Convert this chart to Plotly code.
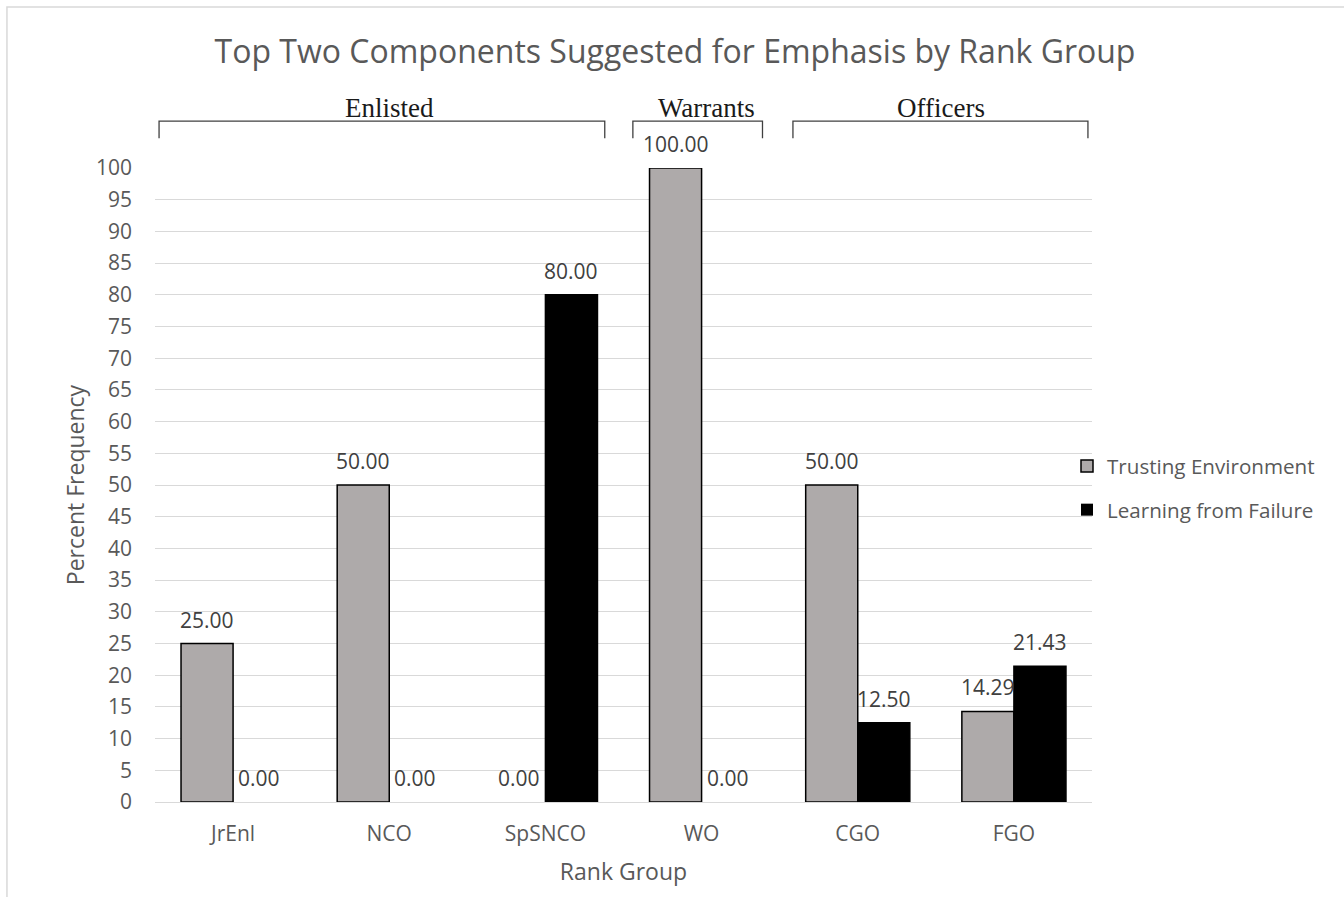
import plotly.graph_objects as go

# Data
rank_groups = ["JrEnl", "NCO", "SpSNCO", "WO", "CGO", "FGO"]
trusting_env = [25.00, 50.00, 0.00, 100.00, 50.00, 14.29]
learning_fail = [0.00, 0.00, 80.00, 0.00, 12.50, 21.43]
y_ticks = list(range(0, 101, 5))

# Group brackets above the plot: (label, x start, x end, label x) in category units
group_names = ["Enlisted", "Warrants", "Officers"]
group_x0 = [-0.474, 2.56, 3.585]
group_x1 = [2.38, 3.39, 5.474]
group_xc = [1.0, 3.03, 4.53]

FONT = "Open Sans"
TXT = "#595959"
GRID = "#d9d9d9"
GRAY = "#aeaaaa"

xpos = list(range(len(rank_groups)))


def outline(values):
    # zero-height bars get no outline so they stay invisible
    return [1.5 if v > 0 else 0 for v in values]


fig = go.Figure()
fig.add_trace(go.Bar(
    x=xpos, y=trusting_env, name="Trusting Environment",
    marker=dict(color=GRAY, line=dict(color="#000000", width=outline(trusting_env))),
    legendgroup="a",
))
fig.add_trace(go.Bar(
    x=xpos, y=learning_fail, name="Learning from Failure",
    marker=dict(color="#000000", line=dict(color="#000000", width=outline(learning_fail))),
    legendgroup="b",
))

# Value labels above each bar
annotations = []
for series, shift in ((trusting_env, -1 / 6), (learning_fail, 1 / 6)):
    for i, v in enumerate(series):
        annotations.append(dict(
            x=i + shift, y=v, xref="x", yref="y", text=f"{v:.2f}",
            showarrow=False, yanchor="bottom", yshift=8,
            font=dict(family=FONT, size=21, color="#404040"),
        ))

# Group labels
for name, xc in zip(group_names, group_xc):
    annotations.append(dict(
        x=xc, y=1.094, xref="x", yref="paper", text=name, showarrow=False,
        yanchor="middle",
        font=dict(family="Liberation Serif", size=27, color="#1a1a1a"),
    ))

shapes = []
# Brackets
for x0, x1 in zip(group_x0, group_x1):
    shapes.append(dict(
        type="path", xref="x", yref="paper",
        path=f"M {x0},1.047 L {x0},1.074 L {x1},1.074 L {x1},1.047",
        line=dict(color="#404040", width=1.3),
    ))
# Chart area border
shapes.append(dict(
    type="rect", xref="paper", yref="paper",
    x0=-0.158, x1=1.3, y0=-0.2, y1=1.254,
    line=dict(color=GRID, width=1.5), fillcolor="rgba(0,0,0,0)", layer="below",
))

fig.update_layout(
    width=1344, height=897,
    margin=dict(l=155, r=252, t=168, b=95, autoexpand=False),
    paper_bgcolor="white", plot_bgcolor="white",
    barmode="group", bargap=1 / 3, bargroupgap=0,
    title=dict(
        text="Top Two Components Suggested for Emphasis by Rank Group",
        x=675 / 1344, xanchor="center", xref="container",
        y=1 - 52 / 897, yanchor="middle", yref="container",
        font=dict(family=FONT, size=32, color=TXT),
    ),
    font=dict(family=FONT, size=21, color=TXT),
    showlegend=True,
    legend=dict(
        x=1067 / 1344, xref="container", xanchor="left",
        y=1 - 446 / 897, yref="container", yanchor="top",
        font=dict(family=FONT, size=20.6, color=TXT),
        tracegroupgap=14, itemwidth=30, traceorder="grouped",
        bgcolor="rgba(0,0,0,0)",
    ),
    xaxis=dict(
        range=[-0.5, 5.5], tickmode="array", tickvals=xpos, ticktext=rank_groups,
        showgrid=False, zeroline=False, showline=True, linecolor=GRID, linewidth=1.3,
        ticks="", ticklabelstandoff=13,
        tickfont=dict(family=FONT, size=21, color=TXT),
        title=dict(text="Rank Group", standoff=17,
                   font=dict(family=FONT, size=23, color=TXT)),
        automargin=False,
    ),
    yaxis=dict(
        range=[0, 100], tickmode="array", tickvals=y_ticks,
        showgrid=True, gridcolor=GRID, gridwidth=1.3,
        zeroline=True, zerolinecolor=GRID, zerolinewidth=1.3,
        ticks="", ticklabelstandoff=22,
        tickfont=dict(family=FONT, size=21, color=TXT),
        title=dict(text="Percent Frequency", standoff=4,
                   font=dict(family=FONT, size=23, color=TXT)),
        automargin=False,
    ),
    annotations=annotations,
    shapes=shapes,
)

fig.write_html("out.html")
